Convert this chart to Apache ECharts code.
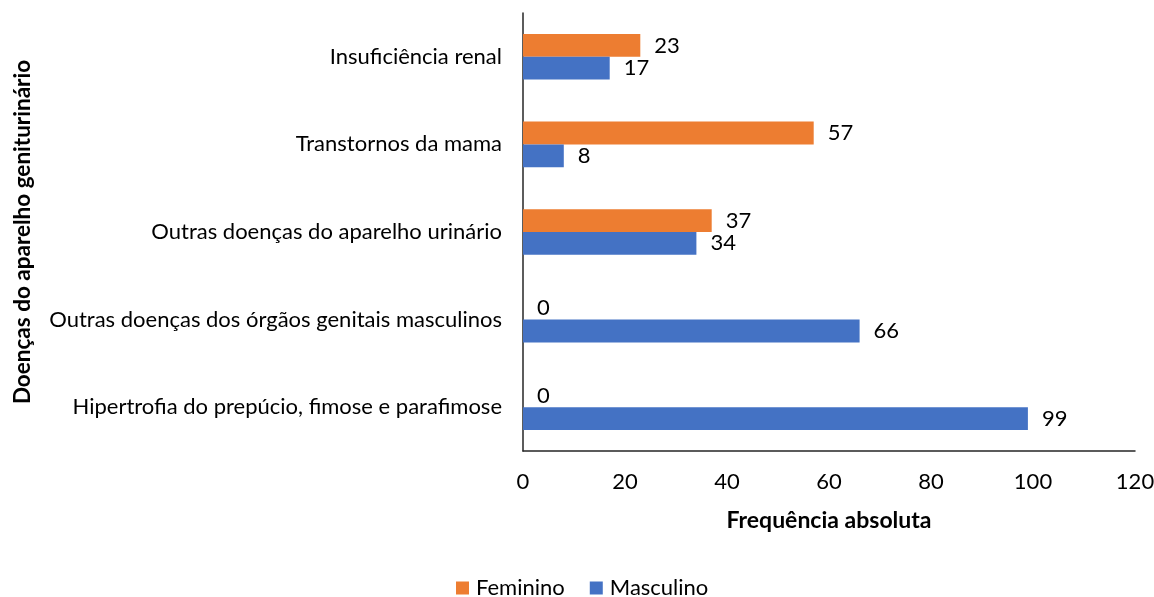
<!DOCTYPE html>
<html lang="pt-BR">
<head>
<meta charset="UTF-8">
<title>Doenças do aparelho geniturinário</title>
<script src="https://cdn.jsdelivr.net/npm/echarts@6/dist/echarts.min.js"></script>
<style>
  html, body { margin: 0; padding: 0; background: #fff; }
  #main { width: 1154px; height: 597px; }
</style>
</head>
<body>
<div id="main"></div>
<script type="text/javascript">
// categorias (de baixo para cima)
var categorias = [
  'Hipertrofia do prepúcio, fimose e parafimose',
  'Outras doenças dos órgãos genitais masculinos',
  'Outras doenças do aparelho urinário',
  'Transtornos da mama',
  'Insuficiência renal'
];
var feminino = [0, 0, 37, 57, 23];
var masculino = [99, 66, 34, 8, 17];
var ticksX = [0, 20, 40, 60, 80, 100, 120];

var fonte = 'Lato, "Open Sans", sans-serif';
var corTexto = '#000';

var chart = echarts.init(document.getElementById('main'));

var rotulo = {
  show: true,
  position: 'right',
  distance: 14,
  color: corTexto,
  fontSize: 22,
  fontFamily: fonte
};

chart.setOption({
  animation: false,
  textStyle: { fontFamily: fonte },
  grid: {
    left: 523, right: 19, top: 13, bottom: 146,
    containLabel: false,
    outerBoundsMode: 'none'
  },
  legend: {
    data: ['Feminino', 'Masculino'],
    top: 577,
    left: 456,
    padding: 0,
    itemWidth: 13,
    itemHeight: 13,
    itemGap: 25,
    icon: 'rect',
    textStyle: { fontSize: 22, color: corTexto, fontFamily: fonte, padding: [0, 0, 0, 2] }
  },
  xAxis: {
    type: 'value',
    min: ticksX[0],
    max: ticksX[ticksX.length - 1],
    interval: ticksX[1] - ticksX[0],
    name: 'Frequência absoluta',
    nameLocation: 'middle',
    nameGap: 58,
    nameTextStyle: { fontSize: 23, fontWeight: 'bold', color: corTexto, fontFamily: fonte },
    axisLine: { show: true, lineStyle: { color: '#262626', width: 1.5 } },
    axisTick: { show: false },
    splitLine: { show: false },
    axisLabel: { fontSize: 22, color: corTexto, margin: 20, fontFamily: fonte }
  },
  yAxis: {
    type: 'category',
    data: categorias,
    name: 'Doenças do aparelho geniturinário',
    nameLocation: 'middle',
    nameGap: 489,
    nameRotate: 90,
    nameTextStyle: { fontSize: 22.5, fontWeight: 'bold', color: corTexto, fontFamily: fonte },
    axisLine: { show: true, lineStyle: { color: '#262626', width: 1.5 } },
    axisTick: { show: false },
    axisLabel: { fontSize: 22, color: corTexto, margin: 21, fontFamily: fonte }
  },
  series: [
    {
      name: 'Feminino',
      type: 'bar',
      data: feminino,
      barGap: '0%',
      barCategoryGap: '48%',
      itemStyle: { color: '#ED7D31' },
      label: rotulo
    },
    {
      name: 'Masculino',
      type: 'bar',
      data: masculino,
      barGap: '0%',
      barCategoryGap: '48%',
      itemStyle: { color: '#4472C4' },
      label: rotulo
    }
  ]
});
</script>
</body>
</html>
